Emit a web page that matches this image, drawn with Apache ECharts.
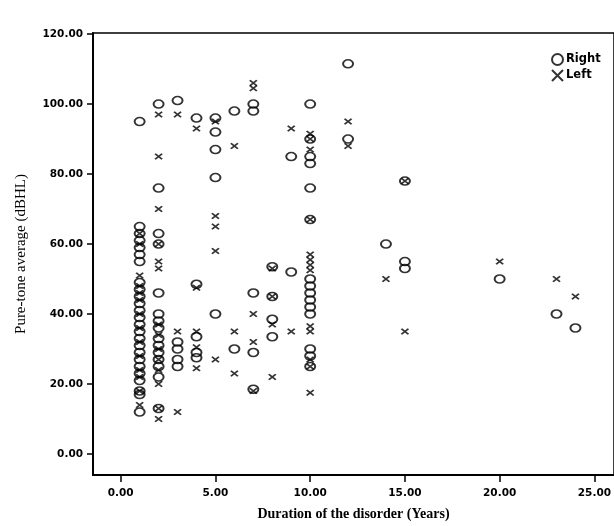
<!DOCTYPE html>
<html>
<head>
<meta charset="utf-8">
<title>Pure-tone average vs duration</title>
<script src="https://cdn.jsdelivr.net/npm/echarts@6/dist/echarts.min.js"></script>
<style>
  html, body { margin: 0; padding: 0; background: #fff; }
  #chart { width: 614px; height: 526px; }
</style>
</head>
<body>
<div id="chart"></div>
<script>
// 病程（年）
const durationYears = [1, 2, 3, 4, 5, 6, 7, 8, 9, 10, 12, 14, 15, 20, 23, 24];
// 右耳 PTA，按病程分组
const rightPta = [
  [95, 65, 63, 61, 59, 57, 55, 49, 47, 45, 43, 41, 39, 37, 35, 33, 31, 29, 27, 25, 23, 21, 18, 17, 12],
  [100, 76, 63, 60, 46, 40, 38, 36, 33, 31, 29, 27, 25, 22, 13],
  [101, 32, 30, 27, 25],
  [96, 48.5, 33.5, 29, 27.5],
  [96, 92, 87, 79, 40],
  [98, 30],
  [100, 98, 46, 29, 18.5],
  [53.5, 45, 38.5, 33.5],
  [85, 52],
  [100, 90, 85, 83, 76, 67, 50, 48, 46, 44, 42, 40, 30, 28, 25],
  [111.5, 90],
  [60],
  [78, 55, 53],
  [50],
  [40],
  [36]
];
// 左耳 PTA，按病程分组
const leftPta = [
  [63, 60, 51, 48, 46, 44, 40, 36, 32, 28, 24, 22, 18, 14],
  [97, 85, 70, 60, 55, 53, 37, 34, 30, 27, 24, 20, 13, 10],
  [97, 35, 12],
  [93, 47.5, 35, 30.5, 24.5],
  [95, 68, 65, 58, 27],
  [88, 35, 23],
  [106, 104.5, 40, 32, 18],
  [53, 45, 37, 22],
  [93, 35],
  [91.5, 90, 87, 67, 57, 55.5, 54, 52.5, 36.5, 35, 27, 25, 17.5],
  [95, 88],
  [50],
  [78, 35],
  [55],
  [50],
  [45]
];
// 刻度间隔
const xStep = 5;
const yStep = 20;

const toPoints = (groups) => {
  const pts = [];
  groups.forEach((vals, i) => {
    vals.forEach(v => pts.push([durationYears[i], v]));
  });
  return pts;
};

const labelFont = { fontFamily: 'DejaVu Sans', fontWeight: 'bold', fontSize: 10.5, color: '#000' };
const crossPath = 'path://M0,0L10,10M0,10L10,0';
const blackLine = { color: '#000', width: 2 };

// grid 0: 外框和坐标轴线；grid 1: 刻度、标签和数据（从 0 开始计刻度）
const option = {
  animation: false,
  backgroundColor: '#fff',
  grid: [
    { left: 93, right: -2, top: 33, bottom: 50, show: true, borderColor: '#000', borderWidth: 1.5 },
    { left: 120.7, right: -2, top: 33, bottom: 72 }
  ],
  legend: {
    orient: 'vertical',
    left: 546, top: 48,
    itemWidth: 13, itemHeight: 11, itemGap: 3,
    textStyle: { fontFamily: 'DejaVu Sans', fontWeight: 'bold', fontSize: 11.5, color: '#000', padding: [0, 0, 0, -3] },
    data: ['Right', 'Left']
  },
  xAxis: [
    {
      gridIndex: 0, type: 'value', min: -1.45, max: 25.93,
      name: 'Duration of the disorder (Years)',
      nameLocation: 'middle',
      nameGap: 32,
      nameTextStyle: { fontFamily: 'Liberation Serif', fontWeight: 'bold', fontSize: 14, color: '#000' },
      axisLine: { onZero: false, lineStyle: blackLine },
      axisTick: { show: false }, axisLabel: { show: false }, splitLine: { show: false }
    },
    {
      gridIndex: 1, type: 'value', min: 0, max: 25.93, interval: xStep,
      offset: 22,
      axisLine: { show: false, onZero: false },
      axisTick: { show: true, length: 6, lineStyle: { color: '#000', width: 1.5 } },
      axisLabel: { margin: 12, formatter: v => v.toFixed(2), ...labelFont },
      splitLine: { show: false }
    }
  ],
  yAxis: [
    {
      gridIndex: 0, type: 'value', min: -6.2, max: 120.3,
      name: 'Pure-tone average (dBHL)',
      nameLocation: 'middle',
      nameGap: 64,
      nameTextStyle: { fontFamily: 'Liberation Serif', fontSize: 15, color: '#000' },
      axisLine: { onZero: false, lineStyle: blackLine },
      axisTick: { show: false }, axisLabel: { show: false }, splitLine: { show: false }
    },
    {
      gridIndex: 1, type: 'value', min: 0, max: 120.3, interval: yStep,
      offset: 27.7,
      axisLine: { show: false, onZero: false },
      axisTick: { show: true, length: 6, lineStyle: { color: '#000', width: 1.5 } },
      axisLabel: { margin: 10, formatter: v => v.toFixed(2), ...labelFont },
      splitLine: { show: false }
    }
  ],
  series: [
    {
      name: 'Right',
      type: 'scatter',
      xAxisIndex: 1, yAxisIndex: 1,
      clip: false,
      symbol: 'circle',
      symbolSize: [10, 8],
      itemStyle: { color: 'rgba(0,0,0,0)', borderColor: '#000', borderWidth: 1.8 },
      data: toPoints(rightPta)
    },
    {
      name: 'Left',
      type: 'scatter',
      xAxisIndex: 1, yAxisIndex: 1,
      clip: false,
      symbol: crossPath,
      symbolSize: [7, 5.5],
      itemStyle: { color: 'rgba(0,0,0,0)', borderColor: '#000', borderWidth: 1.8 },
      data: toPoints(leftPta)
    }
  ]
};

const myChart = echarts.init(document.getElementById('chart'));
myChart.setOption(option);
</script>
</body>
</html>
